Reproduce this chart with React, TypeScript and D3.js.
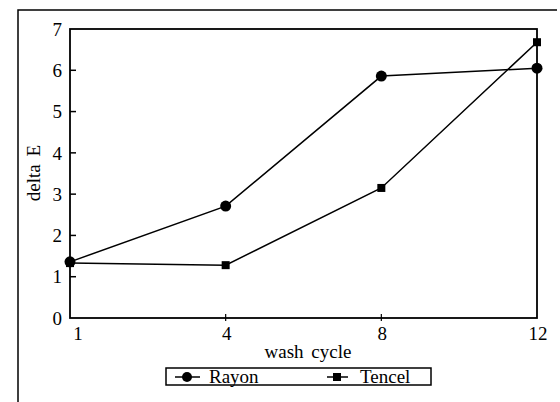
import React from 'react';
import * as d3 from 'd3';

const cycles = ['1', '4', '8', '12'];
const rayon = [1.36, 2.71, 5.86, 6.05];
const tencel = [1.33, 1.28, 3.15, 6.68];
const yTicks = [0, 1, 2, 3, 4, 5, 6, 7];

const width = 560;
const height = 402;
const margin = { left: 70, right: 23, top: 29, bottom: 84 };
const font = '"Liberation Serif", "DejaVu Serif", serif';
const fs = 19;

export default function App() {
  const x = d3.scalePoint<string>()
    .domain(cycles)
    .range([margin.left, width - margin.right]);

  const y = d3.scaleLinear()
    .domain([0, 7])
    .range([height - margin.bottom, margin.top]);

  const line = d3.line<number>()
    .x((d, i) => x(cycles[i]) as number)
    .y(d => y(d));

  const x0 = margin.left;
  const x1 = width - margin.right;
  const y0 = y(0);
  const y1 = y(7);

  return (
    <svg width={width} height={height} style={{ position: 'absolute', left: 0, top: 0 }}>
      <rect width={width} height={height} fill="#fff" />
      {/* outer frame */}
      <path d={`M18,${height}V10H557`} fill="none" stroke="#000" strokeWidth={1.5} />

      {/* plot box */}
      <rect x={x0} y={y1} width={x1 - x0} height={y0 - y1} fill="none" stroke="#000" strokeWidth={1.8} />

      {yTicks.map(t => (
        <g key={t}>
          {t > 0 && t < 7 && (
            <line x1={x0} x2={x0 + 6} y1={y(t)} y2={y(t)} stroke="#000" strokeWidth={1.5} />
          )}
          <text x={62} y={y(t)} dy="0.35em" textAnchor="end" fontFamily={font} fontSize={fs}>{t}</text>
        </g>
      ))}

      {cycles.map((c, i) => (
        <g key={c}>
          {i > 0 && i < cycles.length - 1 && (
            <line x1={x(c)} x2={x(c)} y1={y0 - 4} y2={y0 + 3} stroke="#000" strokeWidth={1.2} />
          )}
          <text x={(x(c) as number) + (i === 0 ? 8 : 1)} y={340} textAnchor="middle" fontFamily={font} fontSize={fs}>{c}</text>
        </g>
      ))}

      <text x={308} y={358} textAnchor="middle" fontFamily={font} fontSize={fs} wordSpacing={3}>wash cycle</text>
      <text transform="translate(40,173) rotate(-90)" textAnchor="middle" fontFamily={font} fontSize={fs} wordSpacing={3}>delta E</text>

      {/* Rayon */}
      <path d={line(rayon) || ''} fill="none" stroke="#000" strokeWidth={1.5} />
      {rayon.map((v, i) => (
        <circle key={i} cx={x(cycles[i])} cy={y(v)} r={5.5} fill="#000" />
      ))}

      {/* Tencel */}
      <path d={line(tencel) || ''} fill="none" stroke="#000" strokeWidth={1.5} />
      {tencel.map((v, i) => (
        <rect key={i} x={(x(cycles[i]) as number) - 4} y={y(v) - 4} width={8} height={8} fill="#000" />
      ))}

      {/* legend */}
      <rect x={166} y={368} width={265} height={17} fill="none" stroke="#000" strokeWidth={1.5} />
      <line x1={175} x2={200} y1={377} y2={377} stroke="#000" strokeWidth={1.5} />
      <circle cx={187} cy={377} r={5} fill="#000" />
      <text x={209} y={383} fontFamily={font} fontSize={fs}>Rayon</text>
      <line x1={327} x2={348} y1={377} y2={377} stroke="#000" strokeWidth={1.5} />
      <rect x={333} y={373} width={8} height={8} fill="#000" />
      <text x={360} y={383} fontFamily={font} fontSize={fs}>Tencel</text>
    </svg>
  );
}
